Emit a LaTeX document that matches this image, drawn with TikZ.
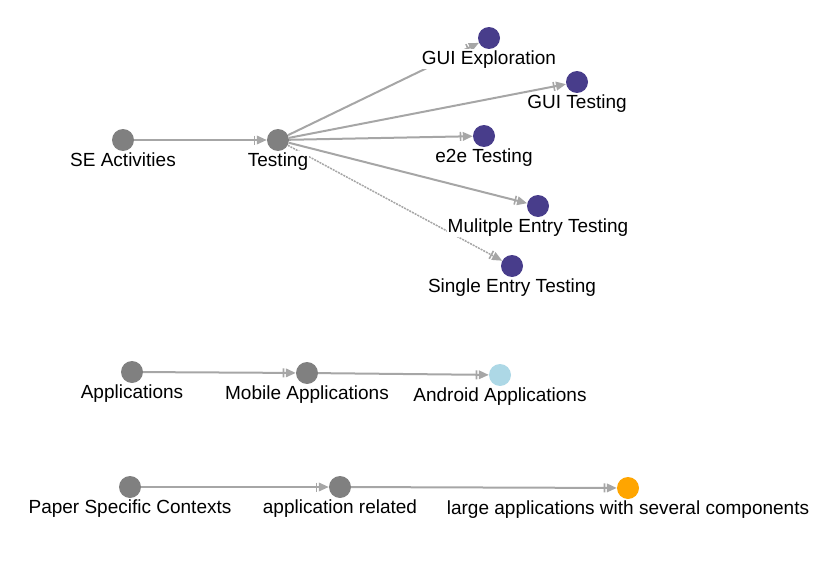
\documentclass[tikz,border=0pt]{standalone}
\usepackage{fontspec}
\setmainfont{Liberation Sans}
\usetikzlibrary{arrows.meta}
\definecolor{nodegray}{HTML}{808080}
\definecolor{edgegray}{HTML}{A6A6A6}
\definecolor{topicblue}{HTML}{483D8B}
\definecolor{lightblue}{HTML}{ADD8E6}
\definecolor{orange}{HTML}{FFA500}
\tikzset{%
  c/.style = {circle,fill=nodegray,inner sep=0pt,minimum size=22pt},
  lbl/.style = {anchor=base,inner sep=1pt,fill=white,
        font=\fontsize{19}{21}\selectfont},
  link/.style = {draw=edgegray,line width=2pt,
        -{Bar[width=9pt,line width=1.6pt,sep=1.5pt]Triangle[length=10pt,width=8.5pt]}},
  dotlink/.style = {link,densely dotted,line width=1.5pt}
}
\begin{document}
\begin{tikzpicture}[x=1pt,y=-1pt]
  \useasboundingbox (0,0) rectangle (831,562);

  % circles
  \node[c] (se) at (123,140) {};
  \node[c] (testing) at (278,140) {};
  \node[c,fill=topicblue] (guiexp) at (489,38) {};
  \node[c,fill=topicblue] (guitest) at (577,82) {};
  \node[c,fill=topicblue] (etoe) at (484,136) {};
  \node[c,fill=topicblue] (multi) at (538,206) {};
  \node[c,fill=topicblue] (single) at (512,266) {};
  \node[c] (apps) at (132,372) {};
  \node[c] (mobile) at (307,373) {};
  \node[c,fill=lightblue] (android) at (500,375) {};
  \node[c] (paper) at (130,487) {};
  \node[c] (apprel) at (340,487) {};
  \node[c,fill=orange] (large) at (628,488) {};

  % connectors
  \path (se) edge[link] (testing)
        (testing) edge[link] (guiexp)
        (testing) edge[link] (guitest)
        (testing) edge[link] (etoe)
        (testing) edge[link] (multi)
        (testing) edge[dotlink] (single)
        (apps) edge[link] (mobile)
        (mobile) edge[link] (android)
        (paper) edge[link] (apprel)
        (apprel) edge[link] (large);

  % labels
  \node[lbl] (se-l) at ([yshift=-26pt]se.center) {SE Activities};
  \node[lbl] (testing-l) at ([yshift=-26pt]testing.center) {Testing};
  \node[lbl] (guiexp-l) at ([yshift=-26pt]guiexp.center) {GUI Exploration};
  \node[lbl] (guitest-l) at ([yshift=-26pt]guitest.center) {GUI Testing};
  \node[lbl] (etoe-l) at ([yshift=-26pt]etoe.center) {e2e Testing};
  \node[lbl] (multi-l) at ([yshift=-26pt]multi.center) {Mulitple Entry Testing};
  \node[lbl] (single-l) at ([yshift=-26pt]single.center) {Single Entry Testing};
  \node[lbl] (apps-l) at ([yshift=-26pt]apps.center) {Applications};
  \node[lbl] (mobile-l) at ([yshift=-26pt]mobile.center) {Mobile Applications};
  \node[lbl] (android-l) at ([yshift=-26pt]android.center) {Android Applications};
  \node[lbl] (paper-l) at ([yshift=-26pt]paper.center) {Paper Specific Contexts};
  \node[lbl] (apprel-l) at ([yshift=-26pt]apprel.center) {application related};
  \node[lbl] (large-l) at ([yshift=-26pt]large.center) {large applications with several components};
\end{tikzpicture}
\end{document}
